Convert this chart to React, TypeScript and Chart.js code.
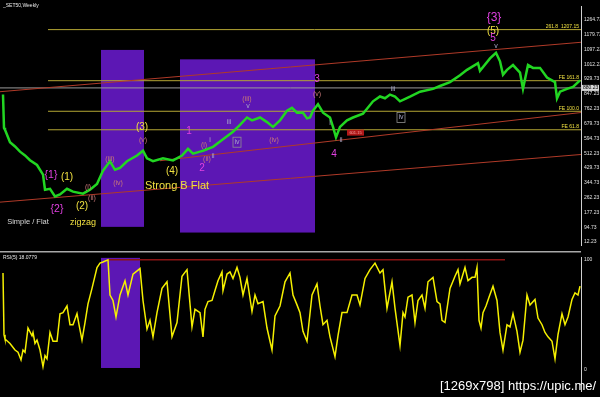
import React, { useEffect, useRef } from 'react';
import { Chart, registerables } from 'chart.js';
Chart.register(...registerables);

// ---------- DATA ----------
const priceWeeks = [
  3, 4, 5, 10, 15, 20, 25, 30, 37, 43,
  45, 50, 55, 60, 67, 73, 83, 90, 97, 103,
  110, 115, 120, 127, 137, 143, 147, 153, 163, 173,
  182, 188, 193, 200, 203, 213, 223, 233, 240, 247,
  252, 260, 267, 273, 280, 287, 292, 297, 303, 307,
  310, 313, 318, 323, 330, 333, 336, 340, 347, 353,
  363, 367, 373, 380, 385, 390, 395, 400, 410, 420,
  433, 440, 450, 460, 467, 478, 480, 490, 496, 500,
  503, 507, 513, 520, 523, 528, 533, 540, 547, 555,
  557, 560, 567, 573, 580,
];
const priceClose = [
  842, 655, 644, 574, 550, 521, 500, 473, 446, 392,
  307, 312, 269, 280, 312, 296, 285, 307, 339, 414,
  467, 419, 430, 467, 499, 526, 483, 467, 483, 472,
  499, 537, 510, 521, 526, 548, 590, 633, 671, 713,
  697, 713, 687, 660, 697, 751, 767, 740, 740, 708,
  713, 751, 788, 740, 713, 660, 601, 660, 697, 713,
  735, 762, 804, 831, 821, 842, 831, 804, 830, 858,
  874, 890, 912, 950, 981, 1019, 976, 1045, 1077, 1029,
  954, 981, 1008, 965, 874, 1008, 992, 992, 938, 912,
  820, 858, 874, 885, 922,
];

const rsiWeeks = [
  3, 4, 5, 10, 15, 18, 21, 23, 25, 28,
  32, 33, 35, 37, 40, 43, 45, 47, 50, 53,
  57, 60, 63, 67, 70, 73, 77, 79, 82, 85,
  88, 92, 97, 100, 103, 108, 110, 113, 116, 120,
  125, 128, 133, 140, 143, 147, 150, 153, 157, 162,
  167, 172, 177, 182, 187, 192, 195, 200, 203, 205,
  208, 212, 215, 218, 222, 223, 227, 230, 233, 237,
  240, 243, 247, 252, 255, 258, 263, 267, 270, 272,
  275, 280, 285, 290, 293, 297, 300, 303, 307, 312,
  317, 320, 323, 327, 330, 335, 338, 342, 347, 352,
  357, 360, 365, 370, 375, 380, 383, 387, 392, 395,
  400, 403, 405, 408, 412, 415, 418, 422, 425, 428,
  433, 437, 440, 442, 445, 450, 455, 458, 460, 465,
  468, 472, 475, 477, 479, 481, 483, 486, 489, 493,
  497, 500, 503, 507, 510, 513, 517, 520, 523, 527,
  530, 535, 538, 542, 545, 548, 552, 555, 558, 562,
  565, 568, 572, 575, 578, 580,
];
const rsiValues = [
  88, 32, 28, 24, 18, 16, 9, 18, 16, 38,
  31, 34, 24, 27, 18, 3, 13, 10, 34, 26,
  26, 51, 52, 58, 41, 41, 51, 41, 27, 43,
  60, 74, 93, 97, 98, 100, 68, 63, 48, 68,
  81, 68, 87, 92, 63, 37, 45, 30, 52, 74,
  80, 30, 43, 85, 91, 39, 55, 52, 30, 55,
  62, 63, 72, 81, 89, 72, 87, 89, 83, 93,
  84, 68, 83, 53, 68, 60, 62, 38, 26, 18,
  49, 58, 80, 88, 68, 59, 52, 35, 26, 68,
  78, 58, 41, 45, 30, 12, 31, 52, 52, 68,
  68, 59, 83, 91, 97, 88, 91, 56, 80, 56,
  22, 52, 48, 66, 68, 43, 63, 68, 56, 80,
  84, 62, 60, 45, 43, 74, 85, 91, 78, 93,
  81, 84, 84, 93, 45, 38, 52, 58, 66, 76,
  63, 34, 18, 41, 39, 51, 35, 16, 27, 68,
  59, 64, 47, 41, 34, 30, 26, 10, 32, 51,
  41, 48, 64, 70, 68, 76,
];

const priceTicks = [12.23, 94.73, 177.23, 262.23, 344.73, 429.73, 512.23, 594.73, 679.73, 762.23, 847.23, 929.73, 1012.23, 1097.23, 1179.73, 1264.73];
const rsiTicks = [0, 100];

// Fibonacci levels
const fibLevels = [1207.15, 920, 748, 644];
const fibNames = ['261.8  1207.15', 'FE 161.8', 'FE 100.0', 'FE 61.8'];
const fibStartWeek = 48;
const currentPrice = 879.4;
const currentPriceText = '880.23';

// trend lines
const trendStartWeeks = [0, 160, 0];
const trendStartPrices = [858, 470, 237];
const trendEndWeeks = [581, 581, 581];
const trendEndPrices = [1136, 741, 505];

// highlighted wave zones
const zoneStart = [101, 180];
const zoneEnd = [144, 315];
const zoneTop = [1093, 1040];
const zoneBottom = [98, 66];
const rsiZoneStart = [101];
const rsiZoneEnd = [140];
const rsiLevelStart = 108;
const rsiLevelEnd = 505;
const rsiLevel = 100;

// wave labels
const labelText = ['{1}', '(1)', '{2}', '(2)', 'Simple / Flat', 'zigzag', '(i)', '(ii)', '(iii)', '(iv)', '(v)', '(3)', '(4)', 'Strong B Flat', '1', '2', '(i)', '(ii)', 'i', 'ii', 'iii', 'iv', '(iii)', 'v', '(iv)', '3', '(v)', 'i', 'ii', '4', 'iii', 'iv', '{3}', '(5)', '5', 'v'];
const labelWeek = [51, 67, 57, 82, 28, 83, 88, 92, 110, 118, 143, 142, 172, 177, 189, 202, 204, 207, 210, 213, 229, 237, 247, 248, 274, 317, 317, 330, 341, 334, 393, 401, 494, 493, 493, 496];
const labelPrice = [387, 376, 200, 216, 125, 125, 323, 258, 478, 344, 585, 660, 408, 328, 633, 430, 558, 478, 585, 494, 687, 574, 815, 778, 585, 928, 842, 681, 585, 505, 873, 713, 1275, 1200, 1158, 1115];

// ---------- STYLE ----------
const MAGENTA = '#e040e0';
const YELLOW = '#f0e040';
const PINK = '#c87878';
const GREYBLUE = '#a8a8c8';
const labelColor = (t: string) => {
  if (t.startsWith('{') || /^[1-5]$/.test(t)) return MAGENTA;
  if (/^\([1-5]\)$/.test(t) || t === 'zigzag' || t === 'Strong B Flat') return YELLOW;
  if (t === 'Simple / Flat') return '#d8d8d8';
  if (t.startsWith('(')) return PINK;
  return GREYBLUE;
};
const labelSize = (t: string) => {
  if (t === '{3}') return 12;
  if (t.startsWith('{')) return 10.5;
  if (/^\([1-5]\)$/.test(t)) return 10;
  if (/^[1-5]$/.test(t)) return 10;
  if (t === 'Strong B Flat') return 11;
  if (t === 'Simple / Flat') return 7.5;
  if (t === 'zigzag') return 9;
  return 7;
};
const ZONE_COLOR = '#5c17b4';
const FIB_COLOR = '#b4a634';
const TREND_COLOR = '#b03a28';
const FONT = '"Liberation Sans", Arial, sans-serif';

const mainPlugin = {
  id: 'mainDecor',
  beforeDatasetsDraw(chart: any) {
    const { ctx, scales } = chart;
    const x = scales.x, y = scales.y;
    ctx.save();
    ctx.fillStyle = ZONE_COLOR;
    for (let i = 0; i < zoneStart.length; i++) {
      const x0 = x.getPixelForValue(zoneStart[i]);
      const x1 = x.getPixelForValue(zoneEnd[i]);
      const y0 = y.getPixelForValue(zoneTop[i]);
      const y1 = y.getPixelForValue(zoneBottom[i]);
      ctx.fillRect(x0, y0, x1 - x0, y1 - y0);
    }
    ctx.restore();
  },
  afterDatasetsDraw(chart: any) {
    const { ctx, scales, chartArea } = chart;
    const x = scales.x, y = scales.y;
    ctx.save();
    ctx.font = `5px ${FONT}`;
    ctx.fillStyle = YELLOW;
    ctx.textAlign = 'right';
    ctx.textBaseline = 'bottom';
    fibLevels.forEach((lv, i) => {
      ctx.fillText(fibNames[i], chartArea.right - 2, y.getPixelForValue(lv) - 0.5);
    });
    ctx.textAlign = 'center';
    ctx.textBaseline = 'middle';
    labelText.forEach((t, i) => {
      const px = x.getPixelForValue(labelWeek[i]);
      const py = y.getPixelForValue(labelPrice[i]);
      ctx.font = `${labelSize(t)}px ${FONT}`;
      ctx.fillStyle = labelColor(t);
      ctx.fillText(t, px, py);
      if (t === 'iv') {
        ctx.strokeStyle = '#909090';
        ctx.lineWidth = 0.8;
        ctx.strokeRect(px - 4, py - 5, 8, 10);
      }
    });
    const tx0 = x.getPixelForValue(347), tx1 = x.getPixelForValue(364);
    const ty = y.getPixelForValue(628);
    ctx.fillStyle = '#b01818';
    ctx.fillRect(tx0, ty - 3, tx1 - tx0, 6);
    ctx.fillStyle = '#f0a0a0';
    ctx.font = `4px ${FONT}`;
    ctx.fillText('601.15', (tx0 + tx1) / 2, ty);
    const cy = y.getPixelForValue(currentPrice);
    ctx.fillStyle = '#d8d8d8';
    ctx.fillRect(chartArea.right + 1, cy - 3, 17, 6);
    ctx.fillStyle = '#000';
    ctx.font = `5px ${FONT}`;
    ctx.textAlign = 'left';
    ctx.fillText(currentPriceText, chartArea.right + 2, cy);
    ctx.fillStyle = '#e8e8e8';
    ctx.font = `5px ${FONT}`;
    ctx.textBaseline = 'top';
    ctx.fillText('_SET50,Weekly', 3, 3);
    ctx.restore();
  },
};

const rsiPlugin = {
  id: 'rsiDecor',
  beforeDatasetsDraw(chart: any) {
    const { ctx, scales, chartArea } = chart;
    const x = scales.x, y = scales.y;
    ctx.save();
    ctx.fillStyle = '#a8a8a8';
    ctx.fillRect(0, 0, chartArea.right, 1.5);
    ctx.fillStyle = ZONE_COLOR;
    for (let i = 0; i < rsiZoneStart.length; i++) {
      const x0 = x.getPixelForValue(rsiZoneStart[i]);
      const x1 = x.getPixelForValue(rsiZoneEnd[i]);
      const y0 = y.getPixelForValue(101.7);
      const y1 = y.getPixelForValue(1.7);
      ctx.fillRect(x0, y0, x1 - x0, y1 - y0);
    }
    ctx.restore();
  },
  afterDatasetsDraw(chart: any) {
    const { ctx } = chart;
    ctx.save();
    ctx.fillStyle = '#e8e8e8';
    ctx.font = `5px ${FONT}`;
    ctx.textBaseline = 'top';
    ctx.fillText('RSI(5) 18.0779', 3, 4);
    ctx.fillStyle = '#ffffff';
    ctx.font = `13px ${FONT}`;
    ctx.textBaseline = 'alphabetic';
    ctx.fillText('[1269x798] https://upic.me/', 440, 139);
    ctx.restore();
  },
};

const rightAxis = (min: number, max: number, ticks: number[], fmt: (v: number) => string) => ({
  position: 'right' as const,
  min,
  max,
  afterBuildTicks: (s: any) => { s.ticks = ticks.map((v) => ({ value: v })); },
  afterFit: (s: any) => { s.width = 19; },
  grid: { display: false, drawTicks: false },
  border: { display: true, color: '#d0d0d0', width: 1 },
  ticks: { color: '#e0e0e0', font: { size: 5, family: FONT }, padding: 3, callback: (v: any) => fmt(Number(v)), autoSkip: false },
});

export default function App() {
  const mainRef = useRef<HTMLCanvasElement>(null);
  const rsiRef = useRef<HTMLCanvasElement>(null);

  useEffect(() => {
    const pricePts = priceWeeks.map((w, i) => ({ x: w, y: priceClose[i] })).filter((p) => p.y !== undefined);
    const rsiPts = rsiWeeks.map((w, i) => ({ x: w, y: rsiValues[i] })).filter((p) => p.y !== undefined);

    const lineDatasets: any[] = [];
    fibLevels.forEach((lv) => {
      lineDatasets.push({ data: [{ x: fibStartWeek, y: lv }, { x: 581, y: lv }], borderColor: FIB_COLOR, borderWidth: 1, pointRadius: 0, order: 3 });
    });
    lineDatasets.push({ data: [{ x: 0, y: currentPrice }, { x: 581, y: currentPrice }], borderColor: '#9a9a9a', borderWidth: 1, pointRadius: 0, order: 3 });
    trendStartWeeks.forEach((w, i) => {
      lineDatasets.push({ data: [{ x: w, y: trendStartPrices[i] }, { x: trendEndWeeks[i], y: trendEndPrices[i] }], borderColor: TREND_COLOR, borderWidth: 1, pointRadius: 0, order: 2 });
    });

    const main = new Chart(mainRef.current!, {
      type: 'line',
      data: {
        datasets: [
          { data: pricePts, borderColor: '#22d622', borderWidth: 2.5, pointRadius: 0, tension: 0, order: 0 } as any,
          ...lineDatasets,
        ],
      },
      options: {
        animation: false,
        responsive: false,
        devicePixelRatio: 1,
        events: [],
        layout: { padding: 0, autoPadding: false } as any,
        plugins: { legend: { display: false }, tooltip: { enabled: false } },
        scales: {
          x: { type: 'linear', min: 0, max: 581, display: false },
          y: rightAxis(-4, 1340, priceTicks, (v) => v.toFixed(2)) as any,
        },
      },
      plugins: [mainPlugin],
    });

    const rsi = new Chart(rsiRef.current!, {
      type: 'line',
      data: {
        datasets: [
          { data: rsiPts, borderColor: '#f5f000', borderWidth: 1.5, pointRadius: 0, tension: 0, order: 0 } as any,
          { data: [{ x: rsiLevelStart, y: rsiLevel }, { x: rsiLevelEnd, y: rsiLevel }], borderColor: '#8a1414', borderWidth: 1.5, pointRadius: 0, order: 1 } as any,
        ],
      },
      options: {
        animation: false,
        responsive: false,
        devicePixelRatio: 1,
        events: [],
        layout: { padding: 0, autoPadding: false } as any,
        plugins: { legend: { display: false }, tooltip: { enabled: false } },
        scales: {
          x: { type: 'linear', min: 0, max: 581, display: false },
          y: rightAxis(-19.2, 102.5, rsiTicks, (v) => String(v)) as any,
        },
      },
      plugins: [rsiPlugin],
    });

    return () => {
      main.destroy();
      rsi.destroy();
    };
  }, []);

  return (
    <div style={{ position: 'fixed', left: 0, top: 0, width: 600, height: 397, background: '#000', overflow: 'hidden' }}>
      <canvas ref={mainRef} width={600} height={251} style={{ position: 'absolute', left: 0, top: 0, width: 600, height: 251 }} />
      <canvas ref={rsiRef} width={600} height={146} style={{ position: 'absolute', left: 0, top: 251, width: 600, height: 146 }} />
    </div>
  );
}
